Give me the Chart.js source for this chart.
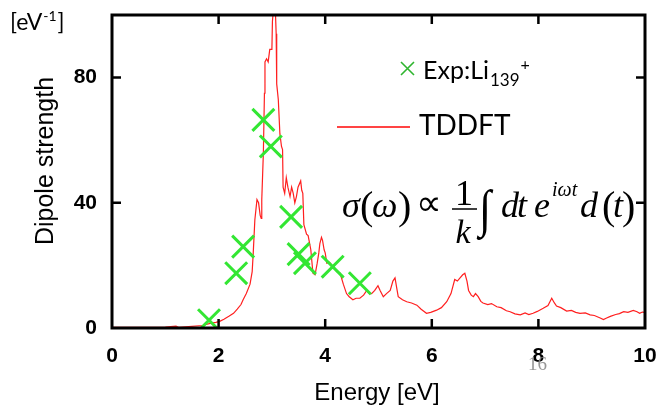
<!DOCTYPE html>
<html><head><meta charset="utf-8">
<script src="https://cdn.jsdelivr.net/npm/chart.js@4"></script>
<style>html,body{margin:0;padding:0;background:#fff;}#wrap{width:672px;height:409px;position:relative;}</style>
</head><body><div id="wrap"><canvas id="c" width="672" height="409"></canvas></div>
<script>
// TDDFT spectrum (energy in eV, dipole strength in eV^-1)
const tddftEnergy = [0.0,0.5,1.0,1.2,1.25,1.5,1.7,1.84,1.95,2.03,2.1,2.2,2.28,2.35,2.42,2.46,2.52,2.59,2.63,2.65,2.68,2.72,2.75,2.78,2.80,2.81,2.84,2.86,2.87,2.90,2.93,2.96,3.00,3.01,3.04,3.06,3.08,3.09,3.12,3.15,3.18,3.20,3.21,3.24,3.27,3.30,3.34,3.37,3.40,3.43,3.46,3.49,3.54,3.56,3.58,3.60,3.65,3.68,3.73,3.77,3.81,3.85,3.88,3.90,3.93,3.95,3.98,4.0,4.03,4.08,4.15,4.22,4.28,4.34,4.4,4.45,4.52,4.58,4.65,4.72,4.78,4.83,4.87,4.93,4.99,5.03,5.09,5.15,5.22,5.27,5.31,5.34,5.37,5.45,5.53,5.62,5.72,5.8,5.9,5.98,6.09,6.18,6.28,6.36,6.43,6.48,6.53,6.58,6.62,6.66,6.69,6.74,6.78,6.82,6.87,6.92,6.96,7.05,7.12,7.22,7.3,7.4,7.47,7.56,7.66,7.75,7.82,7.9,7.98,8.09,8.18,8.25,8.3,8.34,8.42,8.53,8.62,8.7,8.78,8.88,8.97,9.05,9.16,9.22,9.28,9.35,9.45,9.52,9.6,9.68,9.78,9.85,9.9,9.95,10.0];
const tddftStrength = [0.2,0.2,0.3,0.6,0.2,0.5,0.8,1.5,1.8,2.2,2.8,3.8,4.7,6,7.5,9,11,14,18,24,34.5,41,40,36,35,41,56,75,85,86,85,89,89,98,104,104,94,78,73,62,58,57,45,43,48,45,42,45,43,40,42,45,47,44,43,33,30,29.5,25,17.5,17,20.7,24,27,29,28,25,24,20.7,21,19.5,18,17.5,14,11,10,9,9.5,9.5,10.5,12,11,11,12,13.5,12,10,11,12,15,16,13,10,9,8.4,8,7.3,6,4.7,5,5.7,6.5,8.4,11,15.5,15,16,17,17.5,15,12,10.5,10,11,10,8.5,8,7.5,7.8,6.8,6.5,5.5,5.2,4.5,4.2,4.8,4.3,4.7,5.3,6.3,7.2,9.5,8,7,6.5,5.4,5.6,5,4.7,4.8,4.2,4,3.2,2.7,3.2,3.7,4.3,4.6,5.2,5,5.6,5.2,4.7,5.1,5];
// Experiment: Li139+
const expEnergy = [1.82,2.33,2.46,2.84,2.98,3.36,3.50,3.62,4.14,4.65];
const expStrength = [2.5,17.5,26,66.5,58,35.5,23.6,20.7,19.6,14.3];
// Axis ticks
const xTicks = [0,2,4,6,8,10];
const yTicks = [0,40,80];
const xMin = 0, xMax = 10, yMin = 0, yMax = 100;

const tddftData = tddftEnergy.map((x,i)=>({x, y: tddftStrength[i]}));
const expData = expEnergy.map((x,i)=>({x, y: expStrength[i]}));

const SANS = '"Liberation Sans", Arial, sans-serif';
const SERIF = '"Liberation Serif", "Times New Roman", serif';
const LATO = 'Lato, "Open Sans", sans-serif';

const deco = {
  id: 'deco',
  afterDraw(chart){
    const ctx = chart.ctx, a = chart.chartArea;
    const xs = chart.scales.x, ys = chart.scales.y;
    ctx.save();
    // frame
    ctx.strokeStyle = '#000'; ctx.lineWidth = 3;
    ctx.strokeRect(a.left, a.top, a.right - a.left, a.bottom - a.top);
    // inward ticks
    ctx.lineWidth = 2.5;
    const tl = 9;
    xTicks.forEach(v=>{
      if (v === xMin || v === xMax) return;
      const px = xs.getPixelForValue(v);
      ctx.beginPath();
      ctx.moveTo(px, a.bottom); ctx.lineTo(px, a.bottom - tl);
      ctx.moveTo(px, a.top); ctx.lineTo(px, a.top + tl);
      ctx.stroke();
    });
    yTicks.forEach(v=>{
      if (v === yMin || v === yMax) return;
      const py = ys.getPixelForValue(v);
      ctx.beginPath();
      ctx.moveTo(a.left, py); ctx.lineTo(a.left + tl, py);
      ctx.moveTo(a.right, py); ctx.lineTo(a.right - tl, py);
      ctx.stroke();
    });
    // axis titles
    ctx.fillStyle = '#000';
    ctx.font = '24px ' + SANS;
    ctx.textAlign = 'center'; ctx.textBaseline = 'alphabetic';
    ctx.fillText('Energy [eV]', 377, 400);
    ctx.save();
    ctx.translate(53, 161); ctx.rotate(-Math.PI/2);
    ctx.font = '25px ' + SANS;
    ctx.fillText('Dipole strength', 0, 0);
    ctx.restore();
    // unit label
    ctx.textAlign = 'left';
    ctx.font = '23px ' + LATO;
    ctx.fillText('[eV', 10, 30);
    let w = ctx.measureText('[eV').width;
    ctx.font = '14px ' + LATO;
    ctx.fillText('-1', 10 + w + 1, 21);
    let w2 = ctx.measureText('-1').width;
    ctx.font = '23px ' + LATO;
    ctx.fillText(']', 10 + w + w2 + 2, 30);
    // legend: Exp
    ctx.strokeStyle = '#2fb52f'; ctx.lineWidth = 1.6;
    ctx.beginPath();
    ctx.moveTo(401, 62); ctx.lineTo(414, 75);
    ctx.moveTo(414, 62); ctx.lineTo(401, 75);
    ctx.stroke();
    ctx.fillStyle = '#000';
    ctx.font = '25px ' + LATO;
    ctx.fillText('Exp:Li', 423, 79);
    let ew = ctx.measureText('Exp:Li').width;
    ctx.font = '17px ' + LATO;
    ctx.fillText('139', 423 + ew + 1, 86);
    let sw = ctx.measureText('139').width;
    ctx.font = '16px ' + LATO;
    ctx.fillText('+', 423 + ew + sw + 2, 70);
    // legend: TDDFT
    ctx.strokeStyle = '#ff4444'; ctx.lineWidth = 2;
    ctx.beginPath(); ctx.moveTo(337, 127); ctx.lineTo(410, 127); ctx.stroke();
    ctx.font = '28px ' + LATO;
    ctx.fillText('TDDFT', 419, 135);
    // formula
    const it = (s, size, x, y) => { ctx.font = 'italic ' + size + 'px ' + SERIF; ctx.fillText(s, x, y); };
    const up = (s, size, x, y) => { ctx.font = size + 'px ' + SERIF; ctx.fillText(s, x, y); };
    const base = 217;
    it('\u03c3', 36, 342, base);
    up('(', 40, 360, base + 2);
    it('\u03c9', 36, 372, base);
    up(')', 40, 398, base + 2);
    up('\u221d', 36, 416, base - 2);
    ctx.textAlign = 'center';
    up('1', 36, 464, 205);
    ctx.lineWidth = 1.5; ctx.strokeStyle = '#000';
    ctx.beginPath(); ctx.moveTo(452, 209); ctx.lineTo(477, 209); ctx.stroke();
    it('k', 34, 463, 243);
    ctx.textAlign = 'left';
    ctx.save();
    ctx.translate(479, 226); ctx.scale(1.1, 1.3);
    up('\u222b', 40, 0, 0);
    ctx.restore();
    it('d', 36, 501, base);
    it('t', 36, 517, base);
    it('e', 36, 534, base);
    it('i\u03c9t', 20, 552, 196);
    it('d', 36, 580, base);
    up('(', 40, 602, base + 2);
    it('t', 36, 613, base);
    up(')', 40, 622, base + 2);
    // slide number
    ctx.fillStyle = 'rgba(140,140,140,0.9)';
    ctx.font = '19px ' + SERIF;
    ctx.fillText('16', 528, 370);
    ctx.restore();
  }
};

new Chart(document.getElementById('c'), {
  type: 'scatter',
  data: {
    datasets: [
      { label: 'TDDFT', data: tddftData, showLine: true, borderColor: '#ff1f1f', borderWidth: 1.2,
        pointRadius: 0, tension: 0, fill: false, order: 2 },
      { label: 'Exp:Li139+', data: expData, showLine: false, pointStyle: 'crossRot', pointRadius: 15.5,
        borderColor: '#33e633', backgroundColor: '#33e633', pointBorderWidth: 3, borderWidth: 3, order: 1 }
    ]
  },
  options: {
    responsive: false, animation: false,
    layout: { autoPadding: false, padding: { top: 15, right: 27, left: 0, bottom: 0 } },
    plugins: { legend: { display: false }, tooltip: { enabled: false } },
    scales: {
      x: { type: 'linear', min: xMin, max: xMax,
        afterFit(s){ s.height = 81; s.paddingLeft = 0; s.paddingRight = 0; },
        afterBuildTicks(s){ s.ticks = xTicks.map(v=>({value: v})); },
        grid: { display: false, drawTicks: false }, border: { display: false },
        ticks: { color: '#000', font: { family: SANS, size: 21, weight: 'bold' }, padding: 16, maxRotation: 0, autoSkip: false }
      },
      y: { type: 'linear', min: yMin, max: yMax,
        afterFit(s){ s.width = 112; s.paddingTop = 0; s.paddingBottom = 0; },
        afterBuildTicks(s){ s.ticks = yTicks.map(v=>({value: v})); },
        grid: { display: false, drawTicks: false }, border: { display: false },
        ticks: { color: '#000', font: { family: SANS, size: 21, weight: 'bold' }, padding: 15 }
      }
    }
  },
  plugins: [deco]
});
</script>
</body></html>
